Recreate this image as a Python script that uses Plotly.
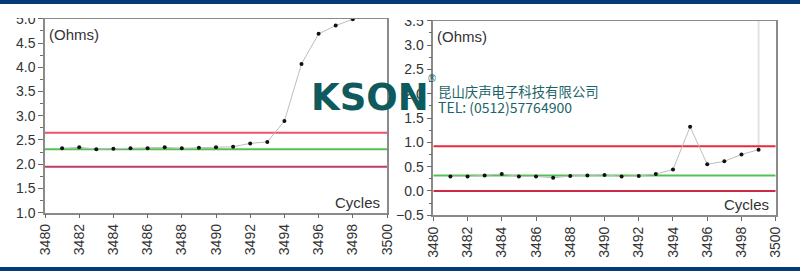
import plotly.graph_objects as go

# ---------------- data ----------------
left_cycles = [3481, 3482, 3483, 3484, 3485, 3486, 3487, 3488, 3489, 3490,
               3491, 3492, 3493, 3494, 3495, 3496, 3497, 3498]
left_ohms = [2.33, 2.35, 2.31, 2.32, 2.33, 2.33, 2.35, 2.33, 2.34, 2.35,
             2.36, 2.43, 2.46, 2.89, 4.07, 4.69, 4.86, 4.99]

right_cycles = [3481, 3482, 3483, 3484, 3485, 3486, 3487, 3488, 3489, 3490,
                3491, 3492, 3493, 3494, 3495, 3496, 3497, 3498, 3499]
right_ohms = [0.30, 0.30, 0.32, 0.35, 0.30, 0.30, 0.27, 0.31, 0.32, 0.33,
              0.30, 0.31, 0.35, 0.44, 1.32, 0.55, 0.61, 0.75, 0.85]

x_span = [3480, 3500]
left_limits = {"upper": 2.65, "center": 2.31, "lower": 1.95}
right_limits = {"upper": 0.92, "center": 0.32, "lower": 0.0}
right_cursor_cycle = 3499
right_cursor_top = 3.5

left_yrange = [1.0, 5.0]
right_yrange = [-0.5, 3.5]
x_ticks = list(range(3480, 3501, 2))

unit_label = "(Ohms)"
x_label = "Cycles"
company = "昆山庆声电子科技有限公司"
tel = "TEL: (0512)57764900"

# ---------------- figure ----------------
W, H = 800, 271
fig = go.Figure()

limit_colors = {"upper": "#f0506a", "center": "#55c155", "lower": "#c23a62"}
limit_colors_r = {"upper": "#ec2a3e", "center": "#55c155", "lower": "#cf2a45"}

def add_chart(xs, ys, limits, lcolors, xa, ya):
    for k in ["lower", "upper", "center"]:
        fig.add_trace(go.Scatter(x=x_span, y=[limits[k]] * 2, mode="lines",
                                 line=dict(color=lcolors[k], width=2),
                                 xaxis=xa, yaxis=ya, hoverinfo="skip",
                                 showlegend=False))
    fig.add_trace(go.Scatter(x=xs, y=ys, mode="lines+markers",
                             line=dict(color="#bdbdbd", width=1),
                             marker=dict(color="#111111", size=4),
                             xaxis=xa, yaxis=ya, showlegend=False))

# right chart cursor line
fig.add_trace(go.Scatter(x=[right_cursor_cycle, right_cursor_cycle],
                         y=[right_ohms[-1], right_cursor_top], mode="lines",
                         line=dict(color="#e2e2e2", width=2),
                         xaxis="x2", yaxis="y2", hoverinfo="skip",
                         showlegend=False))

add_chart(left_cycles, left_ohms, left_limits, limit_colors, "x", "y")
add_chart(right_cycles, right_ohms, right_limits, limit_colors_r, "x2", "y2")

tickfont = dict(family="Liberation Sans, Arial, sans-serif", size=14, color="#333333")
axis_common = dict(showline=True, linecolor="#8a8a8a", linewidth=1.5, mirror=True,
                   showgrid=False, zeroline=False, ticks="outside", automargin=False,
                   tickcolor="#6a6a6a", tickfont=tickfont)

xdom_l = [45 / W, 387 / W]
ydom_l = [1 - 212.7 / H, 1 - 18.8 / H]
xdom_r = [433.3 / W, 775.7 / W]
ydom_r = [1 - 215.3 / H, 1 - 20.8 / H]

fig.update_layout(
    width=W, height=H, margin=dict(l=0, r=0, t=0, b=0, pad=0),
    paper_bgcolor="white", plot_bgcolor="white",
    xaxis=dict(domain=xdom_l, range=x_span, tickvals=x_ticks, tickangle=-90,
               ticklen=4, anchor="y", **axis_common),
    yaxis=dict(domain=ydom_l, range=left_yrange, dtick=0.5, tickformat=".1f",
               ticklen=5, anchor="x",
               minor=dict(dtick=0.25, ticklen=3, tickcolor="#6a6a6a", ticks="outside"),
               **axis_common),
    xaxis2=dict(domain=xdom_r, range=x_span, tickvals=x_ticks, tickangle=-90,
                ticklen=4, anchor="y2", **axis_common),
    yaxis2=dict(domain=ydom_r, range=right_yrange, dtick=0.5, tickformat=".1f",
                ticklen=5, anchor="x2",
                minor=dict(dtick=0.25, ticklen=3, tickcolor="#6a6a6a", ticks="outside"),
                **axis_common),
)

labfont = dict(family="Liberation Sans, Arial, sans-serif", size=15, color="#333333")
for xr, yr in [("x domain", "y domain"), ("x2 domain", "y2 domain")]:
    fig.add_annotation(x=0.006, y=0.975, xref=xr, yref=yr,
                       text=unit_label, showarrow=False, xanchor="left", yanchor="top",
                       font=labfont)
    fig.add_annotation(x=0.985, y=0.0, xref=xr, yref=yr, text=x_label,
                       showarrow=False, xanchor="right", yanchor="bottom", font=labfont)

# navy bands and top crop
navy = "#033c78"
fig.add_shape(type="rect", xref="paper", yref="paper", x0=0, x1=1, y0=1 - 18 / H, y1=1,
              fillcolor="white", line_width=0, layer="above")
fig.add_shape(type="rect", xref="paper", yref="paper", x0=0.5, x1=1, y0=1 - 20 / H, y1=1,
              fillcolor="white", line_width=0, layer="above")
fig.add_shape(type="rect", xref="paper", yref="paper", x0=0, x1=1, y0=1 - 4 / H, y1=1,
              fillcolor=navy, line_width=0, layer="above")
fig.add_shape(type="rect", xref="paper", yref="paper", x0=0, x1=1, y0=0, y1=4 / H,
              fillcolor=navy, line_width=0, layer="above")

# watermark logo
teal = "#0f5a5c"
fig.add_annotation(x=370 / W, y=1 - 97 / H, xref="paper", yref="paper", text="<b>KSON</b>",
                   showarrow=False, xanchor="center", yanchor="middle",
                   font=dict(family="DejaVu Sans", size=37, color=teal))
fig.add_annotation(x=432 / W, y=1 - 78 / H, xref="paper", yref="paper", text="®",
                   showarrow=False, xanchor="center", yanchor="middle",
                   font=dict(family="DejaVu Sans", size=10, color=teal))
fig.add_annotation(x=436 / W, y=1 - 98.5 / H, xref="paper", yref="paper",
                   text=(f"<span style='font-size:13.4px'>{company}</span><br>"
                         f"<span style='font-size:14px'>{tel}</span>"),
                   showarrow=False, xanchor="left", yanchor="middle", align="left",
                   font=dict(family="Noto Sans CJK SC", size=12.5, color="#1d6468"))

fig.write_html("out.html")
